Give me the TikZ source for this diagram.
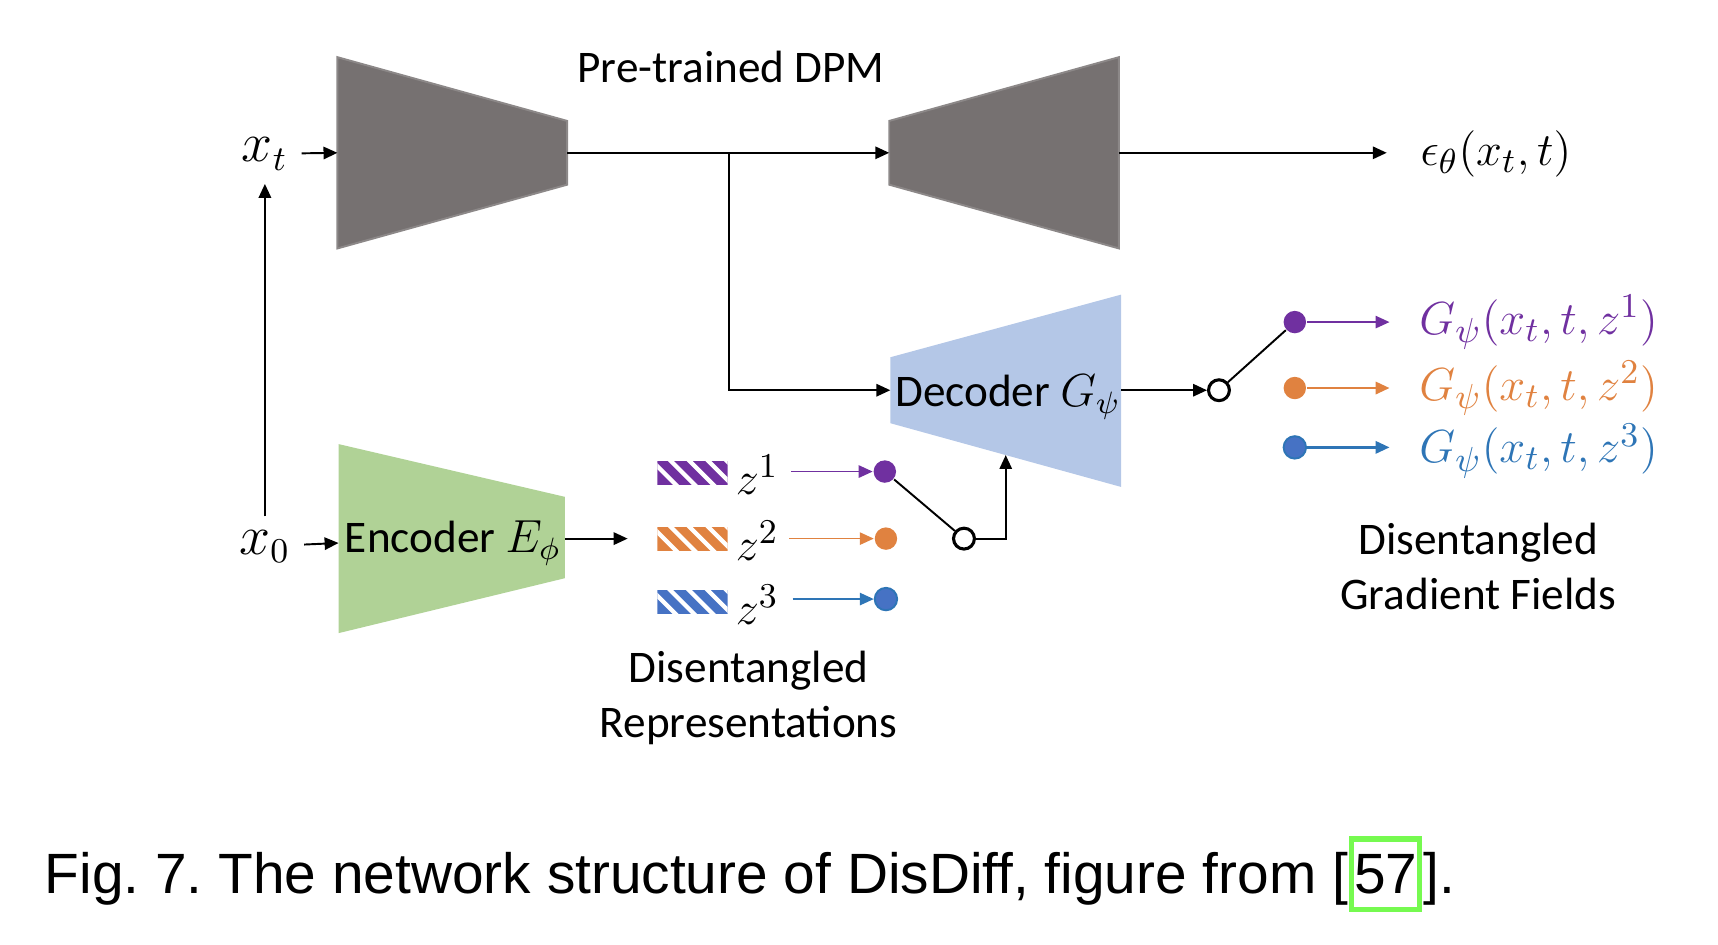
\documentclass[tikz,border=0pt]{standalone}
\usepackage{fontspec}
\setmainfont{Carlito}
\newfontfamily\capfont{Liberation Sans}
\usetikzlibrary{arrows.meta,positioning}
\frenchspacing

\definecolor{dpmgrey}{RGB}{118,113,113}
\definecolor{dpmedge}{RGB}{140,136,136}
\definecolor{decblue}{RGB}{180,199,231}
\definecolor{encgreen}{RGB}{176,210,150}
\definecolor{zpurple}{RGB}{112,48,160}
\definecolor{zorange}{RGB}{224,130,64}
\definecolor{zblue}{RGB}{70,114,196}
\definecolor{gblue}{RGB}{46,117,182}
\definecolor{refgreen}{RGB}{118,250,80}

\begin{document}
\begin{tikzpicture}[x=0.01cm,y=-0.01cm,
    >={Triangle[length=3.6pt,width=3.2pt]}, line width=0.5pt,
    dot/.style={circle, inner sep=0pt, minimum size=5.8pt},
    ocirc/.style={circle, draw, fill=white, inner sep=0pt, minimum size=5.4pt, line width=0.8pt},
    lbl/.style={font=\fontsize{11.7}{14.2}\selectfont},
    mlbl/.style={font=\fontsize{12.5}{15}\selectfont}]

    \useasboundingbox (0,0) rectangle (1563,859);

    % Dibujar los trapecios
    \fill[dpmgrey, draw=dpmedge] (307,52) -- (516,110) -- (516,168) -- (307,226) -- cycle;
    \fill[dpmgrey, draw=dpmedge] (809,110) -- (1018,52) -- (1018,226) -- (809,168) -- cycle;
    \fill[decblue] (810,325) -- (1020,268) -- (1020,443) -- (810,385) -- cycle;
    \fill[encgreen] (308,404) -- (514,452) -- (514,526) -- (308,576) -- cycle;

    % Puntos de entrada y salida
    \coordinate (dpmAin) at (307,139);
    \coordinate (dpmAout) at (516,139);
    \coordinate (split) at (663,139);
    \coordinate (dpmBin) at (809,139);
    \coordinate (dpmBout) at (1018,139);
    \coordinate (decin) at (810,355);
    \coordinate (decout) at (1020,355);
    \coordinate (decbot) at (915,414);
    \coordinate (encin) at (308,494);
    \coordinate (encout) at (514,490);
    \coordinate (repin) at (571,490);

    % Etiquetas
    \node[lbl, anchor=base] (dpm) at (665,75) {Pre-trained DPM};
    \node[lbl, anchor=base] (dec) at (917,370) {Decoder $G_\psi$};
    \node[lbl, anchor=base] (enc) at (412,503) {Encoder $E_\phi$};
    \node[mlbl, font=\fontsize{13.5}{15}\selectfont] (xt) at (241,140) {$x_t$};
    \node[mlbl, font=\fontsize{13.5}{15}\selectfont] (x0) at (241,497) {$x_0$};
    \node[anchor=west, inner sep=1pt, font=\fontsize{12.6}{15}\selectfont] (eps) at (1288,140) {$\epsilon_\theta(x_t,t)$};
    \node[lbl, align=center] (rep) at (681,635) {Disentangled\\Representations};
    \node[lbl, align=center] (grad) at (1345,515) {Disentangled\\Gradient Fields};

    % Flechas del DPM
    \draw[->] (xt) -- (dpmAin);
    \draw[->] (x0) -- (xt);
    \draw[->] (dpmAout) -- (dpmBin);
    \draw[->] (split) |- (decin);
    \draw[->, shorten >=7.5pt] (dpmBout) -- (eps.west |- dpmBout);
    \draw[->] (x0) -- (encin);
    \draw[->] (encout) -- (repin);

    % Representaciones z con rayas
    \foreach \c/\y/\n in {zpurple/430/1, zorange/490/2, zblue/548/3} {
        \begin{scope}
            \clip (598,\y-11) rectangle (662,\y+11);
            \fill[\c] (598,\y-11) rectangle (662,\y+11);
            \foreach \s in {0,...,5}
                \draw[white, line width=1.1pt] (590+\s*17,\y-14) -- ++(28,28);
        \end{scope}
        \node[mlbl, anchor=west, inner sep=1pt] (z\n) at (665,\y+2) {$z^{\n}$};
    }
    \node[dot, fill=zpurple] (zd1) at (805,429) {};
    \node[dot, fill=zorange] (zd2) at (806,490) {};
    \node[dot, fill=zblue, draw=gblue] (zd3) at (806,545) {};
    \draw[->, zpurple, line width=0.4pt] (720,429) -- (zd1);
    \draw[->, zorange, line width=0.4pt] (718,490) -- (zd2);
    \draw[->, gblue, line width=0.4pt] (721,545) -- (zd3);

    % Interruptor hacia el decoder
    \node[ocirc] (sw1) at (877,490) {};
    \draw (zd1) -- (sw1);
    \draw[->] (sw1) -| (decbot);

    % Interruptor de salida
    \node[ocirc] (sw2) at (1109,355) {};
    \draw[->] (decout) -- (sw2);
    \node[dot, fill=zpurple] (gd1) at (1178,293) {};
    \node[dot, fill=zorange] (gd2) at (1178,353) {};
    \node[dot, fill=zblue, draw=gblue] (gd3) at (1178,407) {};
    \draw (sw2) -- (gd1);

    % Campos de gradiente
    \node[mlbl, anchor=west, inner sep=1pt, text=zpurple] (g1) at (1287,293) {$G_\psi(x_t,t,z^1)$};
    \node[mlbl, anchor=west, inner sep=1pt, text=zorange] (g2) at (1287,353) {$G_\psi(x_t,t,z^2)$};
    \node[mlbl, anchor=west, inner sep=1pt, text=gblue] (g3) at (1287,410) {$G_\psi(x_t,t,z^3)$};
    \draw[->, zpurple, line width=0.4pt, shorten >=6.5pt] (gd1) -- (g1.west |- gd1);
    \draw[->, zorange, line width=0.6pt, shorten >=6.5pt] (gd2) -- (g2.west |- gd2);
    \draw[->, gblue, line width=0.6pt, shorten >=6.5pt] (gd3) -- (g3.west |- gd3);

    % Pie de figura
    \node[anchor=base west, inner sep=0pt, font=\capfont\fontsize{14.7}{17}\selectfont] (cap) at (40,813)
        {Fig. 7. The network structure of DisDiff, figure from [};
    \node[anchor=base west, inner xsep=0.6pt, inner ysep=4pt, draw=refgreen, line width=1.4pt,
        font=\capfont\fontsize{14.7}{17}\selectfont] (ref) at (cap.base east) {57};
    \node[anchor=base west, inner sep=0pt, font=\capfont\fontsize{14.7}{17}\selectfont] (capend) at (ref.base east) {].};

\end{tikzpicture}
\end{document}
